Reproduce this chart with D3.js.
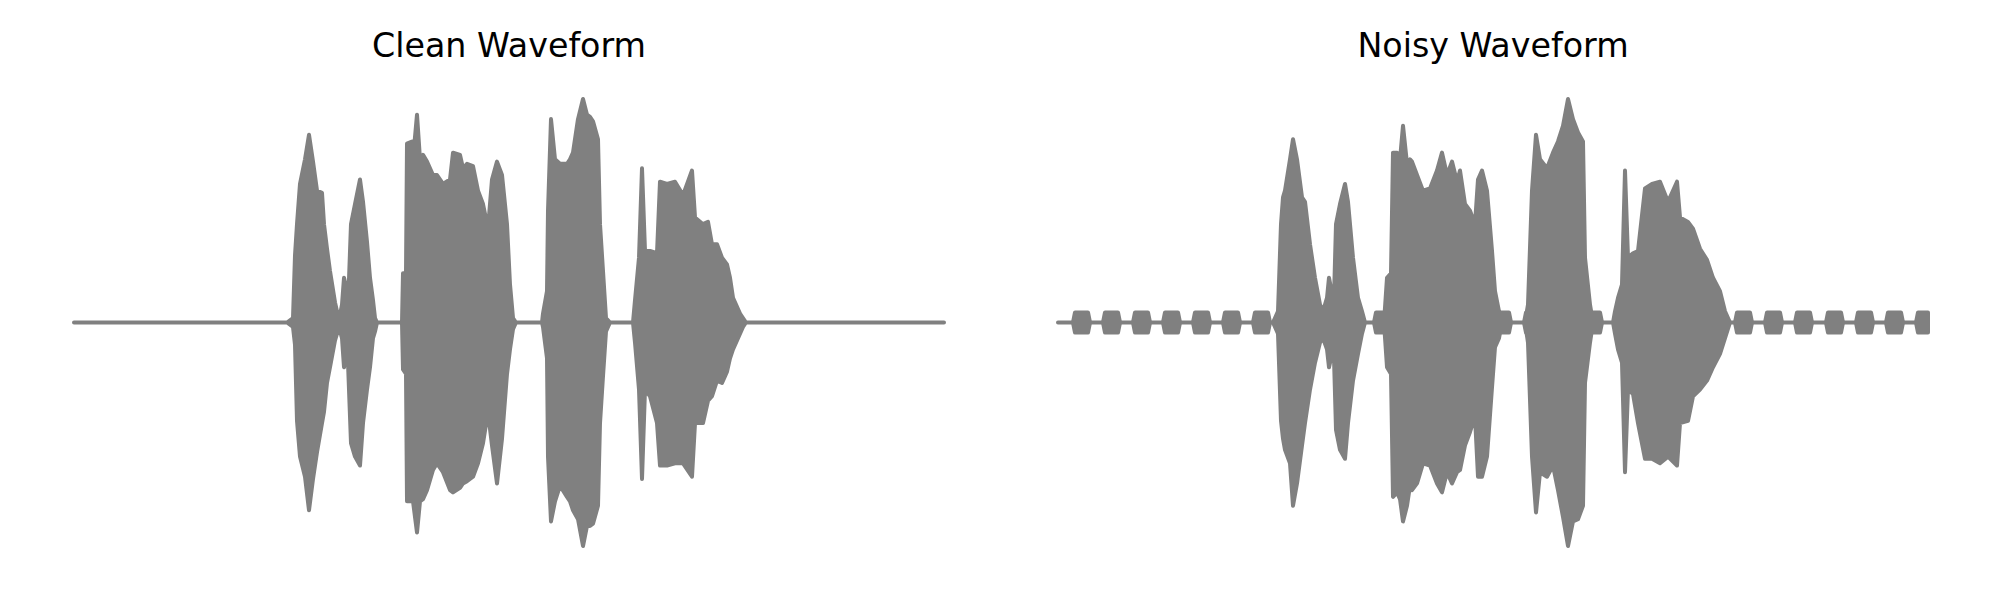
<!DOCTYPE html>
<html>
<head>
<meta charset="utf-8">
<script src="https://cdn.jsdelivr.net/npm/d3@7"></script>
<style>
  html, body { margin: 0; padding: 0; background: #ffffff; }
  svg { display: block; }
</style>
</head>
<body>
<svg id="chart" width="2000" height="600"></svg>
<script>
// ---- Data (time in frames, amplitude normalised to the peak) ----
const titles = ["Clean Waveform", "Noisy Waveform"];
const duration = 870;

// Clean waveform envelope
const cleanTime = [0, 213, 219, 221, 223, 226, 231, 235, 239, 243, 248, 250, 253, 256, 261, 265, 268, 270, 273, 274, 277, 281, 286, 289, 293, 296, 299, 301, 303, 328, 329, 332, 333, 338, 339, 343, 346, 349, 353, 359, 363, 369, 376, 379, 386, 389, 393, 399, 404, 409, 414, 418, 423, 428, 433, 436, 439, 442, 468, 469, 473, 474, 477, 481, 486, 493, 496, 499, 504, 509, 513, 516, 519, 524, 526, 529, 532, 536, 559, 561, 565, 568, 571, 576, 583, 586, 593, 601, 609, 618, 621, 629, 634, 638, 643, 648, 653, 656, 659, 663, 666, 669, 672, 870];
const cleanUpper = [0, 0, 0.02, 0.30, 0.44, 0.62, 0.73, 0.84, 0.72, 0.59, 0.58, 0.44, 0.33, 0.23, 0.09, 0.01, 0.08, 0.20, 0.14, 0.07, 0.44, 0.53, 0.64, 0.54, 0.36, 0.20, 0.10, 0.02, 0, 0, 0.22, 0.22, 0.80, 0.81, 0.73, 0.93, 0.73, 0.75, 0.72, 0.66, 0.66, 0.62, 0.64, 0.76, 0.75, 0.69, 0.71, 0.70, 0.59, 0.53, 0.42, 0.64, 0.72, 0.66, 0.44, 0.17, 0.02, 0, 0, 0.04, 0.14, 0.50, 0.91, 0.73, 0.71, 0.71, 0.73, 0.76, 0.91, 1.00, 0.93, 0.92, 0.90, 0.82, 0.44, 0.23, 0.02, 0, 0, 0.10, 0.29, 0.69, 0.32, 0.32, 0.31, 0.63, 0.62, 0.63, 0.57, 0.68, 0.47, 0.44, 0.45, 0.35, 0.35, 0.29, 0.26, 0.20, 0.11, 0.07, 0.04, 0.02, 0, 0];
const cleanLower = [0, 0, -0.02, -0.10, -0.44, -0.60, -0.69, -0.84, -0.70, -0.58, -0.45, -0.40, -0.27, -0.20, -0.08, -0.02, -0.07, -0.20, -0.14, -0.18, -0.54, -0.60, -0.64, -0.45, -0.30, -0.20, -0.07, -0.04, 0, 0, -0.21, -0.23, -0.80, -0.80, -0.80, -0.94, -0.80, -0.79, -0.75, -0.66, -0.63, -0.67, -0.75, -0.76, -0.74, -0.72, -0.71, -0.69, -0.63, -0.54, -0.40, -0.55, -0.72, -0.52, -0.23, -0.12, -0.03, 0, 0, -0.02, -0.16, -0.60, -0.89, -0.80, -0.73, -0.78, -0.80, -0.84, -0.88, -1.00, -0.91, -0.91, -0.90, -0.82, -0.45, -0.24, -0.04, 0, 0, -0.09, -0.30, -0.70, -0.30, -0.33, -0.45, -0.64, -0.64, -0.63, -0.63, -0.69, -0.45, -0.45, -0.35, -0.33, -0.26, -0.27, -0.22, -0.16, -0.12, -0.08, -0.05, -0.02, 0, 0];

// Noisy waveform: speech envelope
const noisyTime = [0, 215, 217, 220, 223, 225, 227, 232, 235, 239, 244, 247, 252, 257, 262, 265, 269, 271, 274, 276, 278, 282, 287, 290, 295, 300, 304, 307, 326, 329, 333, 335, 339, 342, 345, 349, 352, 354, 359, 365, 372, 379, 384, 389, 394, 399, 402, 407, 412, 417, 420, 424, 429, 434, 437, 441, 444, 467, 470, 474, 478, 482, 489, 495, 500, 505, 510, 515, 520, 525, 527, 532, 535, 555, 557, 560, 564, 567, 570, 575, 580, 587, 594, 602, 610, 619, 622, 630, 635, 642, 649, 655, 662, 667, 672, 870];
const noisyUpper = [0, 0, 0.02, 0.05, 0.44, 0.56, 0.59, 0.73, 0.82, 0.73, 0.56, 0.54, 0.35, 0.20, 0.08, 0.05, 0.11, 0.20, 0.13, 0.11, 0.44, 0.53, 0.62, 0.54, 0.29, 0.11, 0.05, 0, 0, 0.20, 0.22, 0.76, 0.76, 0.73, 0.88, 0.71, 0.73, 0.72, 0.66, 0.59, 0.60, 0.68, 0.76, 0.66, 0.72, 0.63, 0.68, 0.53, 0.50, 0.44, 0.64, 0.68, 0.59, 0.32, 0.14, 0.05, 0, 0, 0.08, 0.59, 0.84, 0.73, 0.69, 0.76, 0.81, 0.88, 1.00, 0.91, 0.85, 0.81, 0.29, 0.08, 0, 0, 0.05, 0.11, 0.17, 0.68, 0.29, 0.31, 0.32, 0.60, 0.62, 0.63, 0.54, 0.63, 0.47, 0.45, 0.42, 0.33, 0.28, 0.20, 0.14, 0.05, 0, 0];
const noisyLower = [0, 0, -0.02, -0.05, -0.44, -0.52, -0.57, -0.63, -0.82, -0.72, -0.55, -0.45, -0.30, -0.18, -0.09, -0.07, -0.12, -0.20, -0.14, -0.16, -0.48, -0.57, -0.61, -0.45, -0.26, -0.14, -0.05, 0, 0, -0.20, -0.23, -0.78, -0.76, -0.79, -0.89, -0.82, -0.73, -0.75, -0.72, -0.63, -0.64, -0.72, -0.76, -0.67, -0.72, -0.67, -0.66, -0.55, -0.49, -0.42, -0.69, -0.69, -0.60, -0.29, -0.11, -0.07, 0, 0, -0.09, -0.60, -0.85, -0.67, -0.69, -0.64, -0.75, -0.87, -1.00, -0.89, -0.88, -0.82, -0.27, -0.09, 0, 0, -0.05, -0.12, -0.18, -0.67, -0.30, -0.32, -0.45, -0.61, -0.61, -0.63, -0.60, -0.64, -0.45, -0.44, -0.33, -0.30, -0.26, -0.20, -0.14, -0.07, 0, 0];

// Noisy waveform: periodic noise bursts (onset times), burst length and amplitude
const noiseOnsets = [15, 45, 75, 105, 135, 165, 195, 226, 256, 286, 316, 346, 376, 406, 436, 466, 497, 527, 557, 587, 617, 647, 677, 707, 737, 768, 798, 828, 858];
const noiseLength = [17];
const noiseAmplitude = [0.045];

// ---- Rendering ----
const svg = d3.select("#chart");
const color = "#808080";
const lw = 4;

const panels = [
  { title: titles[0], time: cleanTime, up: cleanUpper, lo: cleanLower, bursts: [], left: 74, right: 944, cx: 509 },
  { title: titles[1], time: noisyTime, up: noisyUpper, lo: noisyLower, bursts: noiseOnsets, left: 1058, right: 1928, cx: 1493 }
];

const y = d3.scaleLinear().domain([-1, 1]).range([546, 99]);

panels.forEach(p => {
  const x = d3.scaleLinear().domain([0, duration]).range([p.left, p.right]);
  const g = svg.append("g");
  const area = d3.area()
    .x(d => x(d.t))
    .y0(d => y(d.lo))
    .y1(d => y(d.up));

  const env = p.time.map((t, i) => ({ t, up: p.up[i], lo: p.lo[i] }));
  g.append("path")
    .datum(env)
    .attr("d", area)
    .attr("fill", color)
    .attr("stroke", color)
    .attr("stroke-width", lw)
    .attr("stroke-linejoin", "round")
    .attr("stroke-linecap", "round");

  const L = noiseLength[0], A = noiseAmplitude[0], ramp = 2;
  p.bursts.forEach(t0 => {
    const t3 = Math.min(t0 + L, duration);
    const pts = [
      { t: t0, up: 0, lo: 0 },
      { t: Math.min(t0 + ramp, t3), up: A, lo: -A },
      { t: Math.max(t3 - (t3 < t0 + L ? 0 : ramp), t0 + ramp), up: A, lo: -A },
      { t: t3, up: t3 < t0 + L ? A : 0, lo: t3 < t0 + L ? -A : 0 }
    ];
    g.append("path")
      .datum(pts)
      .attr("d", area)
      .attr("fill", color)
      .attr("stroke", color)
      .attr("stroke-width", lw)
      .attr("stroke-linejoin", "round");
  });

  svg.append("text")
    .attr("x", p.cx)
    .attr("y", 57)
    .attr("text-anchor", "middle")
    .attr("font-family", "DejaVu Sans")
    .attr("font-size", "33.3px")
    .attr("fill", "#000000")
    .text(p.title);
});
</script>
</body>
</html>
